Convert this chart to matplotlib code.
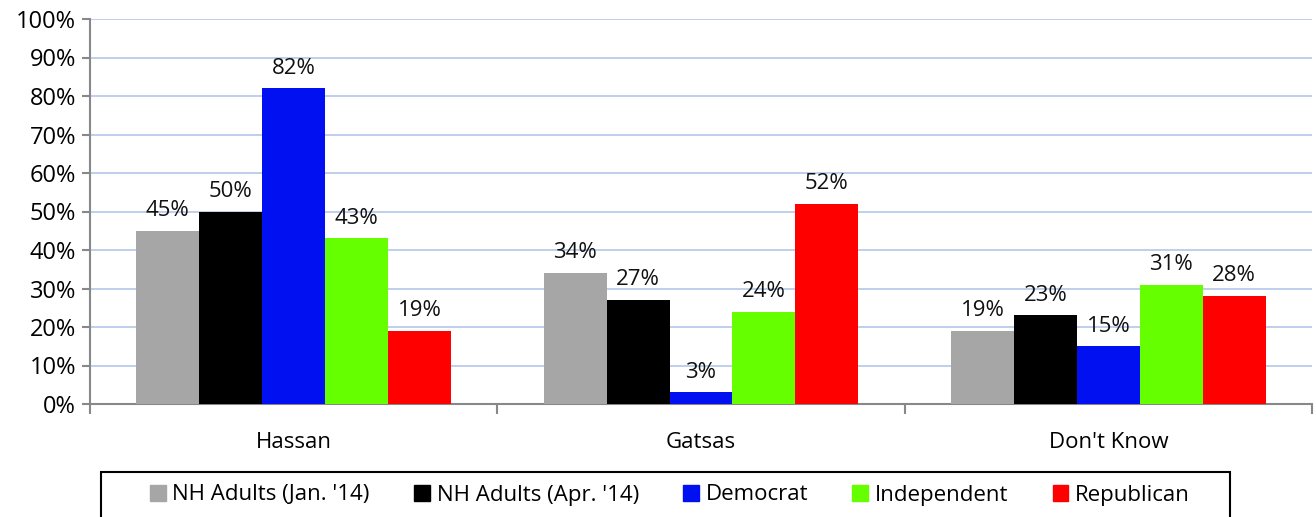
import numpy as np
import matplotlib.pyplot as plt
from matplotlib.patches import Rectangle

categories = ["Hassan", "Gatsas", "Don't Know"]
series = ["NH Adults (Jan. '14)", "NH Adults (Apr. '14)", "Democrat", "Independent", "Republican"]
jan14 = [45, 34, 19]
apr14 = [50, 27, 23]
democrat = [82, 3, 15]
independent = [43, 24, 31]
republican = [19, 52, 28]
colors = ["#a6a6a6", "#000000", "#0010f0", "#66ff00", "#ff0000"]

plt.rcParams['font.family'] = ['Open Sans', 'DejaVu Sans']
fs = 16

fig = plt.figure(figsize=(13.16, 5.17), dpi=100)
ax = fig.add_axes([90 / 1316, 1 - 404 / 517, (1312 - 90) / 1316, (404 - 19) / 517])

x = np.arange(len(categories))
w = 63 / 408
values = [jan14, apr14, democrat, independent, republican]
for i, (name, vals, c) in enumerate(zip(series, values, colors)):
    pos = x + (i - 2) * w
    ax.bar(pos, vals, width=w, color=c, label=name, zorder=3)
    for p, v in zip(pos, vals):
        ax.annotate(f"{v}%", (p, v), xytext=(0, 7), textcoords="offset points",
                    ha="center", va="bottom", fontsize=fs, color="#111111")

ax.set_xlim(-0.5, len(categories) - 0.5)
ax.set_ylim(0, 100)
ax.set_yticks(range(0, 101, 10))
ax.set_yticklabels([f"{t}%" for t in range(0, 101, 10)], fontsize=fs + 1)
ax.yaxis.grid(True, color="#b4c6e7", linewidth=1.2, zorder=0)

ax.set_xticks(x)
ax.set_xticklabels(categories, fontsize=fs)
ax.tick_params(axis="x", length=0, pad=20)
ax.set_xticks(np.arange(-0.5, len(categories), 1), minor=True)
ax.tick_params(axis="x", which="minor", length=7, color="#888888", width=1.5)
ax.tick_params(axis="y", length=6, color="#888888", width=1.5, pad=4)

for s in ["top", "right"]:
    ax.spines[s].set_visible(False)
for s in ["left", "bottom"]:
    ax.spines[s].set_color("#888888")
    ax.spines[s].set_linewidth(1.5)

# legend box, runs past the bottom edge like the original
fig.patches.append(Rectangle((101 / 1316, -0.05), (1230 - 101) / 1316, 0.05 + 1 - 472 / 517,
                             transform=fig.transFigure, fill=False, edgecolor="black",
                             linewidth=1.5))
handles = [Rectangle((0, 0), 1, 1, color=c) for c in colors]
fig.legend(handles, series, loc="center",
           bbox_to_anchor=(670 / 1316, 1 - 495 / 517),
           ncol=5, fontsize=fs, frameon=False,
           handlelength=0.7, handleheight=0.7, handletextpad=0.3,
           columnspacing=2.0, borderpad=0, borderaxespad=0)

plt.savefig("out.png", dpi=100)
